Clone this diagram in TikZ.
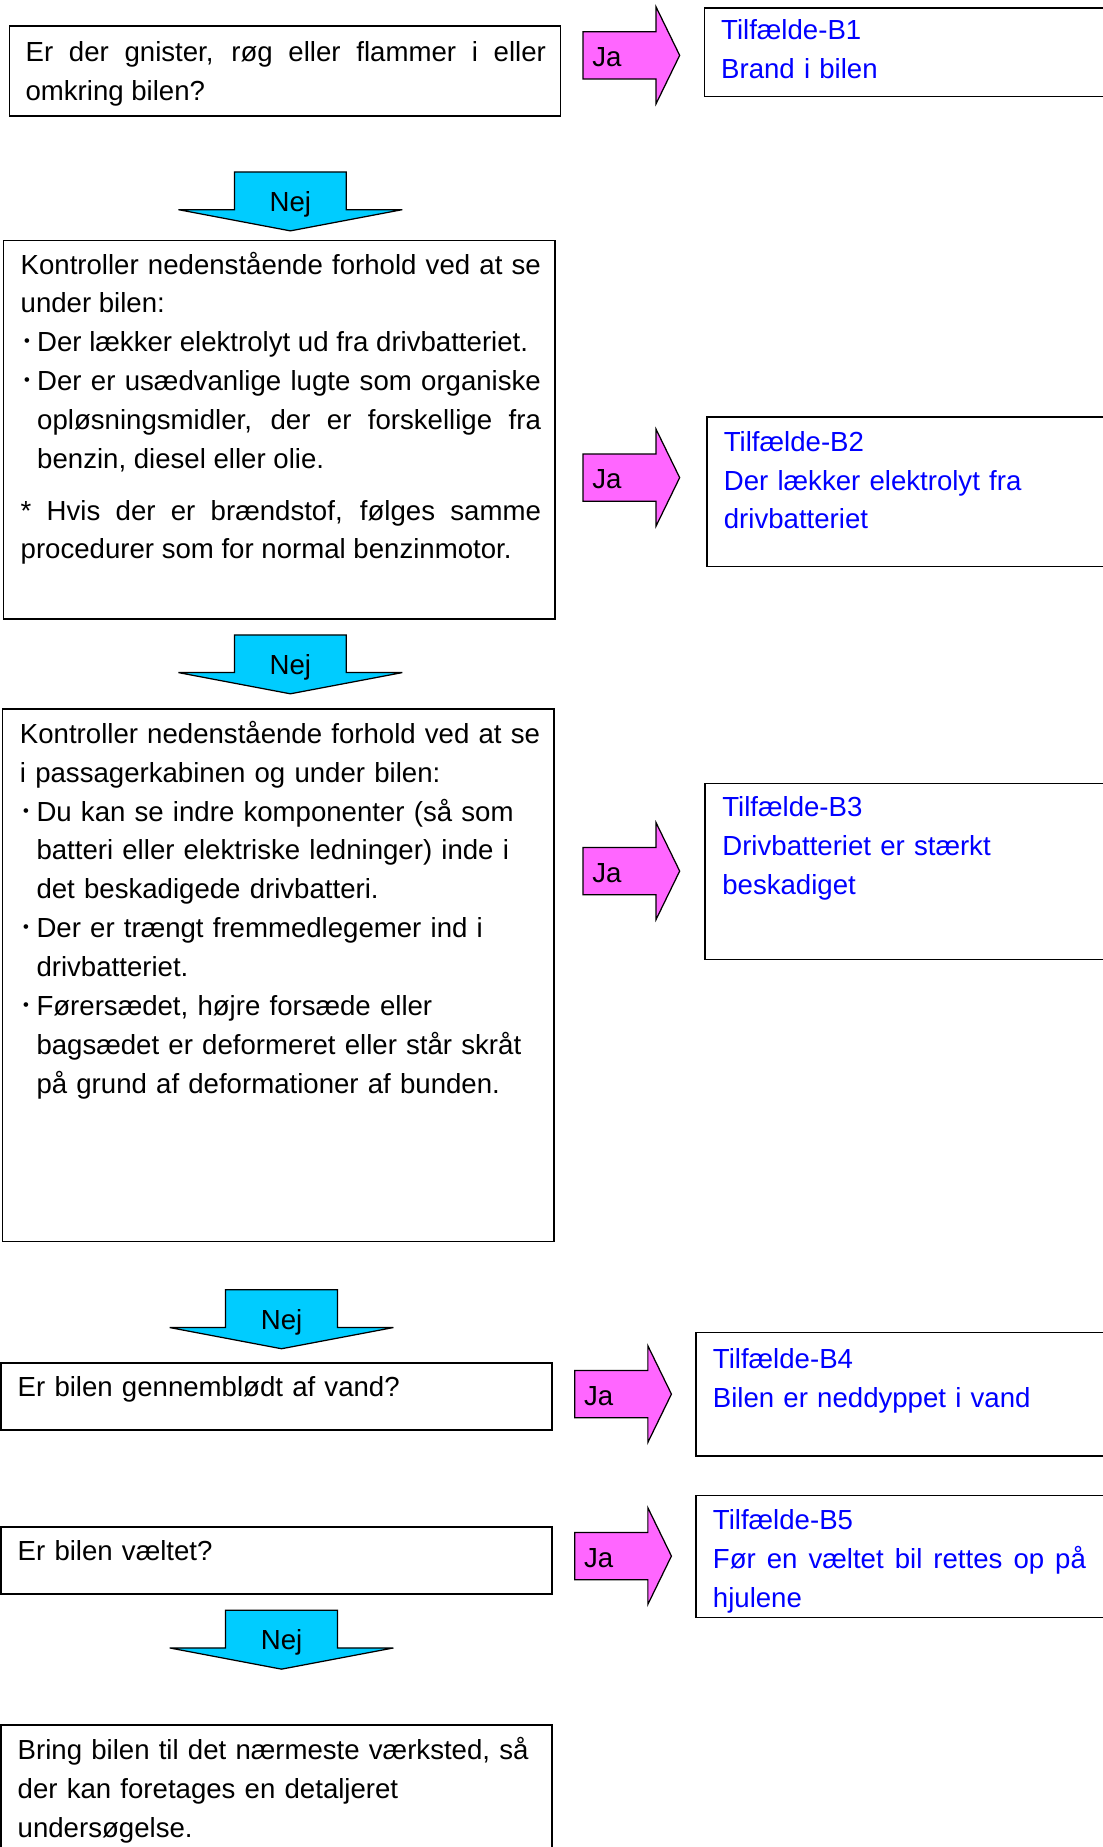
\documentclass[tikz,border=0pt]{standalone}
\usepackage{fontspec}
\setmainfont{Liberation Sans}
\newfontfamily\cjk{Noto Sans CJK JP}
\definecolor{jafill}{HTML}{FF66FF}
\definecolor{nejfill}{HTML}{00CCFF}
\definecolor{caseblue}{HTML}{0000FF}
\setlength{\parindent}{0pt}
\hyphenpenalty=10000
\exhyphenpenalty=10000

\begin{document}
\begin{tikzpicture}[x=0.03cm,y=-0.03cm]
  \tikzstyle{frame}=[draw, line width=1.1pt]
  \tikzstyle{jaarrow}=[draw, fill=jafill, line width=0.9pt]
  \tikzstyle{nejarrow}=[draw, fill=nejfill, line width=0.9pt]
  \tikzstyle{body}=[anchor=north west, inner sep=0pt, text width=13.25cm,
    font=\fontsize{20pt}{28.15pt}\selectfont]
  \tikzstyle{case}=[body, text width=9.5cm, text=caseblue]
  \tikzstyle{lbl}=[inner sep=0pt, font=\fontsize{20pt}{28.15pt}\selectfont]

  \useasboundingbox (0,0) rectangle (936,1568);

  % left column
  \draw[frame] (8,22) rectangle (476,98.5);
  \node[body, align=justify] (q1) at (21.5,29.3)
    {\strut Er der gnister, røg eller flammer i eller\linebreak omkring bilen?};

  \draw[frame] (3,204) rectangle (471,525.5);
  \node[body, align=justify] (chk1) at (17.3,209.3)
    {\strut Kontroller nedenstående forhold ved at se\linebreak under bilen:\par
     \hangindent=12pt\hangafter=1 \makebox[12pt][l]{\cjk ･}Der lækker elektrolyt ud fra drivbatteriet.\par
     \hangindent=12pt\hangafter=1 \makebox[12pt][l]{\cjk ･}Der er usædvanlige lugte som organiske\linebreak
     opløsningsmidler, der er forskellige fra\linebreak benzin, diesel eller olie.\par
     \vspace{0.33cm}* Hvis der er brændstof, følges samme\linebreak procedurer som for normal benzinmotor.\par};

  \draw[frame] (2,602) rectangle (470.5,1054);
  \node[body, align=left] (chk2) at (16.7,607.8)
    {\strut Kontroller nedenstående forhold ved at se\newline i passagerkabinen og under bilen:\par
     \hangindent=12pt\hangafter=1 \makebox[12pt][l]{\cjk ･}Du kan se indre komponenter (så som\newline
     batteri eller elektriske ledninger) inde i\newline det beskadigede drivbatteri.\par
     \hangindent=12pt\hangafter=1 \makebox[12pt][l]{\cjk ･}Der er trængt fremmedlegemer ind i\newline drivbatteriet.\par
     \hangindent=12pt\hangafter=1 \makebox[12pt][l]{\cjk ･}Førersædet, højre forsæde eller\newline
     bagsædet er deformeret eller står skråt\newline på grund af deformationer af bunden.\par};

  \draw[frame] (1,1157) rectangle (468.6,1214);
  \node[body, align=left] (q2) at (14.8,1162.3) {\strut Er bilen gennemblødt af vand?};

  \draw[frame] (1,1296.5) rectangle (468.6,1353.4);
  \node[body, align=left] (q3) at (14.8,1301.3) {\strut Er bilen væltet?};

  \draw[frame] (1,1464.5) rectangle (468.6,1600);
  \node[body, align=left] (shop) at (14.8,1470.3)
    {\strut Bring bilen til det nærmeste værksted, så\\der kan foretages en detaljeret\\undersøgelse.};

  % right column
  \draw[frame] (598,7) rectangle (960,82);
  \node[case, align=left] (b1) at (612,10.3) {\strut Tilfælde-B1\\Brand i bilen};

  \draw[frame] (600,354) rectangle (960,481);
  \node[case, align=left] (b2) at (614.3,359.7) {\strut Tilfælde-B2\\Der lækker elektrolyt fra\\drivbatteriet};

  \draw[frame] (598.5,665) rectangle (960,814.5);
  \node[case, align=left] (b3) at (613,670) {\strut Tilfælde-B3\\Drivbatteriet er stærkt\\beskadiget};

  \draw[frame] (591,1131) rectangle (960,1236);
  \node[case, align=left] (b4) at (605,1138.3) {\strut Tilfælde-B4\\Bilen er neddyppet i vand};

  \draw[frame] (591,1269.6) rectangle (960,1373);
  \node[case, align=justify] (b5) at (605,1275.3)
    {\strut Tilfælde-B5\newline Før en væltet bil rettes op på\linebreak hjulene};

  % Ja arrows
  \draw[jaarrow] (495,27) -- (557,27) -- (557,6) -- (577,47) -- (557,88) -- (557,67) -- (495,67) -- cycle;
  \node[lbl, anchor=base west] (ja1) at (502.6,56.5) {Ja};
  \draw[jaarrow] (495,385.5) -- (557,385.5) -- (557,364.5) -- (577,405.5) -- (557,446.5) -- (557,425.5) -- (495,425.5) -- cycle;
  \node[lbl, anchor=base west] (ja2) at (502.6,415) {Ja};
  \draw[jaarrow] (495,719.5) -- (557,719.5) -- (557,698.5) -- (577,739.5) -- (557,780.5) -- (557,759.5) -- (495,759.5) -- cycle;
  \node[lbl, anchor=base west] (ja3) at (502.6,749) {Ja};
  \draw[jaarrow] (488,1163.5) -- (550,1163.5) -- (550,1142.5) -- (570,1183.5) -- (550,1224.5) -- (550,1203.5) -- (488,1203.5) -- cycle;
  \node[lbl, anchor=base west] (ja4) at (495.6,1193) {Ja};
  \draw[jaarrow] (488,1301) -- (550,1301) -- (550,1280) -- (570,1321) -- (550,1362) -- (550,1341) -- (488,1341) -- cycle;
  \node[lbl, anchor=base west] (ja5) at (495.6,1330.5) {Ja};

  % Nej arrows
  \draw[nejarrow] (199,146) -- (294,146) -- (294,178) -- (341.5,178) -- (246.5,196) -- (151.5,178) -- (199,178) -- cycle;
  \node[lbl, anchor=base] (nej1) at (246.5,179.5) {Nej};
  \draw[nejarrow] (199,539) -- (294,539) -- (294,571) -- (341.5,571) -- (246.5,589) -- (151.5,571) -- (199,571) -- cycle;
  \node[lbl, anchor=base] (nej2) at (246.5,572.5) {Nej};
  \draw[nejarrow] (191.5,1095) -- (286.5,1095) -- (286.5,1127) -- (334,1127) -- (239,1145) -- (144,1127) -- (191.5,1127) -- cycle;
  \node[lbl, anchor=base] (nej3) at (239,1128.5) {Nej};
  \draw[nejarrow] (191.5,1367) -- (286.5,1367) -- (286.5,1399) -- (334,1399) -- (239,1417) -- (144,1399) -- (191.5,1399) -- cycle;
  \node[lbl, anchor=base] (nej4) at (239,1400.5) {Nej};
\end{tikzpicture}
\end{document}
